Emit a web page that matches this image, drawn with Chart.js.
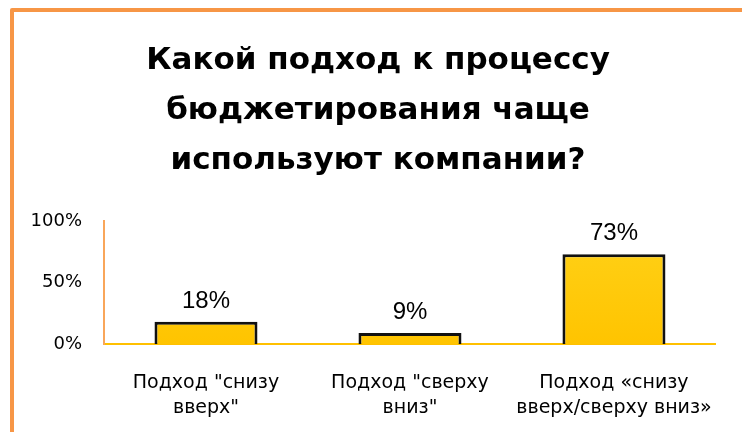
<!DOCTYPE html>
<html>
<head>
<meta charset="utf-8">
<script src="https://cdn.jsdelivr.net/npm/chart.js@4/dist/chart.umd.min.js"></script>
<style>
  html, body { margin: 0; padding: 0; background: #fff; overflow: hidden; }
  #wrap { position: relative; width: 742px; height: 432px; }
  #frame { position: absolute; left: 10px; top: 8px; width: 760px; height: 460px;
           border: 4px solid #F79646; box-sizing: border-box; border-radius: 2px; }
  canvas { position: absolute; left: 0; top: 0; }
</style>
</head>
<body>
<div id="wrap">
  <div id="frame"></div>
  <canvas id="chart" width="742" height="432"></canvas>
</div>
<script>
// data
const titleLines = ['Какой подход к процессу', 'бюджетирования чаще', 'используют компании?']
const categories = [
    ['Подход "снизу', 'вверх"'],
    ['Подход "сверху', 'вниз"'],
    ['Подход «снизу', 'вверх/сверху вниз»']
]
const shares = [18, 9, 73]
const yTicks = [0, 50, 100]

const FONT = '"DejaVu Sans", sans-serif'

// title drawn by hand so it can sit centred on the frame, not on the plot
const frameTitle = {
    id: 'frameTitle',
    afterDraw(chart) {
        const ctx = chart.ctx
        ctx.save()
        ctx.font = 'bold 31px ' + FONT
        ctx.fillStyle = '#000'
        ctx.textAlign = 'center'
        ctx.textBaseline = 'middle'
        titleLines.forEach((line, i) => ctx.fillText(line, 378, 61 + i * 50))
        ctx.restore()
    }
}

// labels over the bars
const valueLabels = {
    id: 'valueLabels',
    afterDatasetsDraw(chart) {
        const ctx = chart.ctx
        const meta = chart.getDatasetMeta(0)
        ctx.save()
        ctx.font = '24px "Liberation Sans", Arial, sans-serif'
        ctx.fillStyle = '#000'
        ctx.textAlign = 'center'
        ctx.textBaseline = 'alphabetic'
        meta.data.forEach((bar, i) => {
            ctx.fillText(shares[i] + '%', bar.x, bar.y - 14)
        })
        ctx.restore()
    }
}

function barFill(context) {
    const chart = context.chart
    const area = chart.chartArea
    if (!area) return '#FFC800'
    const g = chart.ctx.createLinearGradient(0, area.top, 0, area.bottom)
    g.addColorStop(0, '#FFD21A')
    g.addColorStop(1, '#FFC400')
    return g
}

new Chart(document.getElementById('chart'), {
    type: 'bar',
    data: {
        labels: categories,
        datasets: [{
            data: shares,
            backgroundColor: barFill,
            borderColor: '#111',
            borderWidth: 3,
            borderSkipped: 'bottom',
            barPercentage: 0.505,
            categoryPercentage: 1
        }]
    },
    options: {
        responsive: false,
        animation: false,
        layout: { padding: { left: 0, right: 26, top: 221, bottom: 12 } },
        plugins: {
            legend: { display: false },
            tooltip: { enabled: false },
            title: { display: false }
        },
        scales: {
            x: {
                afterFit(scale) { scale.height = 76 },
                grid: { display: false, drawTicks: false },
                border: { color: '#FFC000', width: 2 },
                ticks: {
                    color: '#000',
                    padding: 26,
                    maxRotation: 0,
                    font: { family: FONT, size: 19, lineHeight: 1.35 }
                }
            },
            y: {
                min: 0,
                max: 100,
                afterFit(scale) { scale.width = 104 },
                afterBuildTicks(scale) { scale.ticks = yTicks.map(v => ({ value: v })) },
                grid: { display: false, drawTicks: false },
                border: { color: '#F9A65A', width: 2 },
                ticks: {
                    color: '#000',
                    padding: 22,
                    font: { family: FONT, size: 18 },
                    callback: v => v + '%'
                }
            }
        }
    },
    plugins: [valueLabels, frameTitle]
})
</script>
</body>
</html>
